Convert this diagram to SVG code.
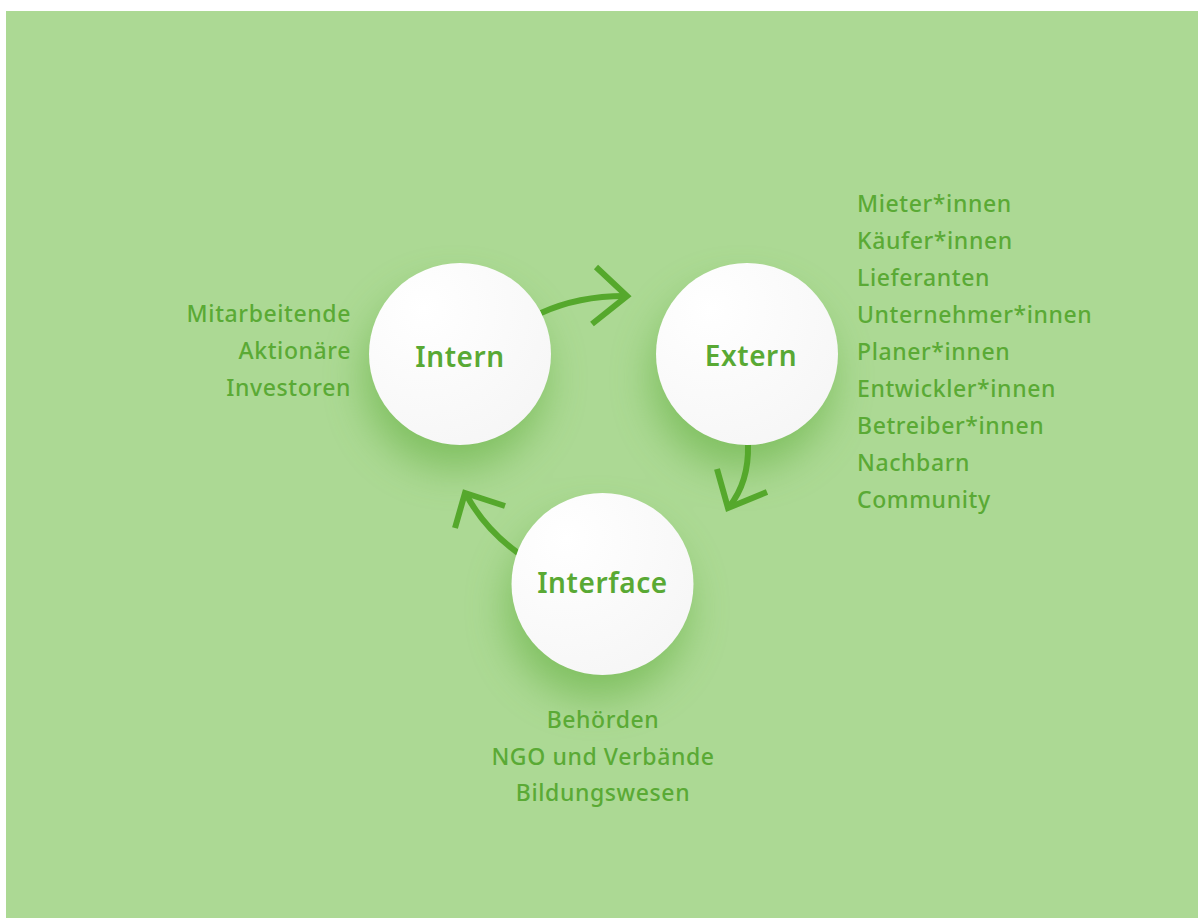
<svg xmlns="http://www.w3.org/2000/svg" width="1198" height="918" viewBox="0 0 1198 918">
  <style>
    .node-label { font-family: "Noto Sans", "Liberation Sans", sans-serif; font-weight: 600; font-size: 28px; fill: #59a934; text-anchor: middle; letter-spacing: 0.6px; }
    .list { font-family: "Noto Sans", "Liberation Sans", sans-serif; font-weight: 500; font-size: 23px; fill: #5aaa35; letter-spacing: 0.6px; }
    .conn { fill: none; stroke: #55a82c; stroke-width: 6; stroke-linecap: butt; }
    .head { fill: none; stroke: #55a82c; stroke-width: 6; stroke-linejoin: miter; stroke-miterlimit: 10; }
  </style>
  <defs>
    <radialGradient id="ball" cx="0.3" cy="0.25" r="0.85">
      <stop offset="0" stop-color="#ffffff"/>
      <stop offset="1" stop-color="#f6f6f6"/>
    </radialGradient>
    <filter id="soft" x="-60%" y="-60%" width="220%" height="240%">
      <feGaussianBlur stdDeviation="20"/>
    </filter>
  </defs>

  <!-- backdrop -->
  <rect width="1198" height="918" fill="#ffffff"/>
  <rect x="6" y="11" width="1192" height="907" fill="#acd994"/>

  <!-- soft shadows under the discs -->
  <g fill="#68b244" opacity="0.65" filter="url(#soft)">
    <circle cx="455" cy="378" r="90"/>
    <circle cx="742" cy="378" r="90"/>
    <circle cx="597" cy="608" r="90"/>
  </g>

  <!-- connectors -->
  <g id="connectors">
    <path class="conn" d="M541,313 Q578,296 625,296"/>
    <polyline class="head" points="596,267 627,296 592,324"/>
    <path class="conn" d="M748,445 Q749,482 729,507"/>
    <polyline class="head" points="717,469 728,508 767,492"/>
    <path class="conn" d="M518,553 Q485,529 467,496"/>
    <polyline class="head" points="505,506 465,493 455,528"/>
  </g>

  <g id="node-intern">
    <circle cx="460" cy="354" r="91" fill="url(#ball)"/>
    <text class="node-label" x="460" y="367">Intern</text>
  </g>

  <g id="node-extern">
    <circle cx="747" cy="354" r="91" fill="url(#ball)"/>
    <text class="node-label" x="751" y="366">Extern</text>
  </g>

  <g id="node-interface">
    <circle cx="602.5" cy="584" r="91" fill="url(#ball)"/>
    <text class="node-label" x="602.5" y="593">Interface</text>
  </g>

  <g id="list-intern" class="list" text-anchor="end">
    <text x="351" y="322">Mitarbeitende</text>
    <text x="351" y="359">Aktionäre</text>
    <text x="351" y="396">Investoren</text>
  </g>

  <g id="list-extern" class="list">
    <text x="857" y="212">Mieter*innen</text>
    <text x="857" y="249">Käufer*innen</text>
    <text x="857" y="286">Lieferanten</text>
    <text x="857" y="323">Unternehmer*innen</text>
    <text x="857" y="360">Planer*innen</text>
    <text x="857" y="397">Entwickler*innen</text>
    <text x="857" y="434">Betreiber*innen</text>
    <text x="857" y="471">Nachbarn</text>
    <text x="857" y="508">Community</text>
  </g>

  <g id="list-interface" class="list" text-anchor="middle">
    <text x="603" y="728">Behörden</text>
    <text x="603" y="765">NGO und Verbände</text>
    <text x="603" y="801">Bildungswesen</text>
  </g>
</svg>
